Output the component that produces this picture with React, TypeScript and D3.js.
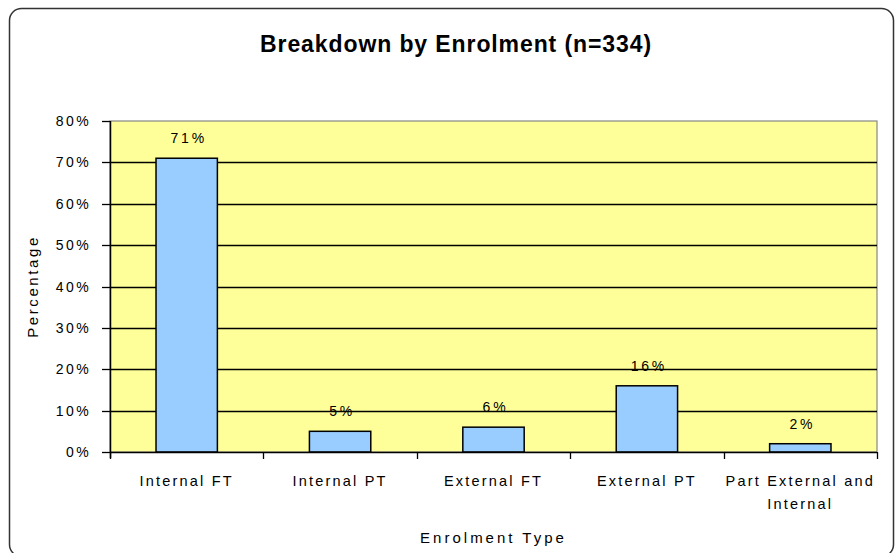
import React, { useEffect, useRef } from 'react';
import * as d3 from 'd3';

const categories = ['Internal FT', 'Internal PT', 'External FT', 'External PT', 'Part External and Internal'];
const tickLabels = [['Internal FT'], ['Internal PT'], ['External FT'], ['External PT'], ['Part External and', 'Internal']];
const percentages = [71, 5, 6, 16, 2];
const yTicks = [0, 10, 20, 30, 40, 50, 60, 70, 80];

const App: React.FC = () => {
  const svgRef = useRef<SVGSVGElement>(null);

  useEffect(() => {
    const W = 895, H = 553;
    const margin = { top: 121, right: 18, bottom: 101, left: 110 };
    const width = W - margin.left - margin.right;
    const height = H - margin.top - margin.bottom;
    const font = 'Arial, "Liberation Sans", sans-serif';

    const svg = d3.select(svgRef.current);
    svg.selectAll('*').remove();

    // outer frame
    svg.append('rect')
      .attr('x', 9.5).attr('y', 8.5)
      .attr('width', 884).attr('height', 548)
      .attr('rx', 12).attr('ry', 12)
      .attr('fill', '#fff')
      .attr('stroke', '#333')
      .attr('stroke-width', 1.5);

    svg.append('text')
      .attr('x', 456).attr('y', 52)
      .attr('text-anchor', 'middle')
      .attr('font-family', font)
      .attr('font-weight', 'bold')
      .attr('font-size', 23)
      .attr('letter-spacing', 0.9)
      .text('Breakdown by Enrolment (n=334)');

    const g = svg.append('g').attr('transform', `translate(${margin.left},${margin.top})`);

    const x = d3.scaleBand<string>().domain(categories).range([0, width]).paddingInner(0.6).paddingOuter(0.3);
    const xb = d3.scaleLinear().domain([0, categories.length]).range([0, width]);
    const y = d3.scaleLinear().domain([0, 80]).range([height, 0]);

    // plot area
    g.append('rect')
      .attr('width', width).attr('height', height)
      .attr('fill', '#ffff99')
      .attr('stroke', '#888')
      .attr('stroke-width', 1.2);

    // gridlines
    g.selectAll('.grid')
      .data(yTicks.filter(t => t > 0 && t < 80))
      .enter().append('line')
      .attr('x1', 0).attr('x2', width)
      .attr('y1', d => Math.round(y(d)) + 0.5).attr('y2', d => Math.round(y(d)) + 0.5)
      .attr('stroke', '#000').attr('stroke-width', 1.3);

    // bars
    g.selectAll('.bar')
      .data(percentages)
      .enter().append('rect')
      .attr('x', (d, i) => x(categories[i])!)
      .attr('y', d => y(d))
      .attr('width', x.bandwidth())
      .attr('height', d => height - y(d))
      .attr('fill', '#99ccff')
      .attr('stroke', '#000')
      .attr('stroke-width', 1.5);

    // data labels
    g.selectAll('.lbl')
      .data(percentages)
      .enter().append('text')
      .attr('x', (d, i) => x(categories[i])! + x.bandwidth() / 2 + 2)
      .attr('y', d => y(d) - 15)
      .attr('text-anchor', 'middle')
      .attr('font-family', font)
      .attr('font-size', 14)
      .attr('letter-spacing', 2.8)
      .text(d => `${d}%`);

    // y axis
    g.append('line')
      .attr('x1', 0.5).attr('x2', 0.5).attr('y1', 0).attr('y2', height + 6)
      .attr('stroke', '#000').attr('stroke-width', 1.5);
    g.selectAll('.ytick')
      .data(yTicks)
      .enter().append('line')
      .attr('x1', -8).attr('x2', 0)
      .attr('y1', d => Math.round(y(d)) + 0.5).attr('y2', d => Math.round(y(d)) + 0.5)
      .attr('stroke', '#000').attr('stroke-width', 1.3);
    g.selectAll('.ylab')
      .data(yTicks)
      .enter().append('text')
      .attr('x', -19)
      .attr('y', d => y(d) + 5)
      .attr('text-anchor', 'end')
      .attr('font-family', font)
      .attr('font-size', 14)
      .attr('letter-spacing', 2.4)
      .text(d => `${d}%`);

    // x axis
    g.append('line')
      .attr('x1', 0).attr('x2', width).attr('y1', height + 0.5).attr('y2', height + 0.5)
      .attr('stroke', '#000').attr('stroke-width', 1.5);
    g.selectAll('.xtick')
      .data(d3.range(categories.length + 1))
      .enter().append('line')
      .attr('x1', d => Math.round(xb(d)) + 0.5).attr('x2', d => Math.round(xb(d)) + 0.5)
      .attr('y1', height).attr('y2', height + 7)
      .attr('stroke', '#000').attr('stroke-width', 1.3);
    const xl = g.selectAll('.xlab')
      .data(tickLabels)
      .enter().append('text')
      .attr('text-anchor', 'middle')
      .attr('font-family', font)
      .attr('font-size', 14.5)
      .attr('letter-spacing', 2.2);
    xl.each(function (lines, i) {
      const t = d3.select(this);
      lines.forEach((ln, k) => {
        t.append('tspan')
          .attr('x', xb(i + 0.5))
          .attr('y', height + 34 + k * 23)
          .text(ln);
      });
    });

    // axis titles
    svg.append('text')
      .attr('x', margin.left + width / 2)
      .attr('y', 543)
      .attr('text-anchor', 'middle')
      .attr('font-family', font)
      .attr('font-size', 15)
      .attr('letter-spacing', 3)
      .text('Enrolment Type');
    svg.append('text')
      .attr('transform', `translate(38,${margin.top + height / 2}) rotate(-90)`)
      .attr('text-anchor', 'middle')
      .attr('font-family', font)
      .attr('font-size', 15)
      .attr('letter-spacing', 2.6)
      .text('Percentage');
  }, []);

  return (
    <svg
      ref={svgRef}
      width={895}
      height={553}
      style={{ position: 'absolute', left: 0, top: 0, background: '#fff' }}
    />
  );
};

export default App;
